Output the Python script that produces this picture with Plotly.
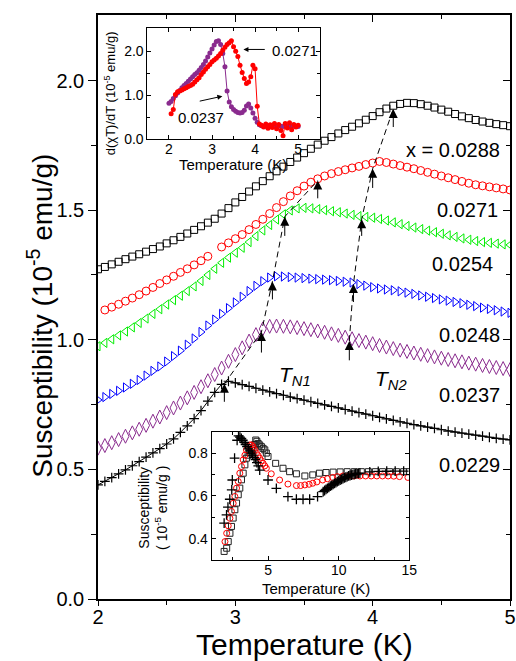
import plotly.graph_objects as go

FONT = "Liberation Sans, Arial, Helvetica, sans-serif"

# ---------------- main panel data (temperature in K, chi in 1e-5 emu/g) -------------
T = [2.00, 2.05, 2.10, 2.15, 2.20, 2.25, 2.30, 2.35, 2.40, 2.45,
     2.50, 2.55, 2.60, 2.65, 2.70, 2.75, 2.80, 2.85, 2.90, 2.95,
     3.00, 3.05, 3.10, 3.15, 3.20, 3.25, 3.30, 3.35, 3.40, 3.45,
     3.50, 3.55, 3.60, 3.65, 3.70, 3.75, 3.80, 3.85, 3.90, 3.95,
     4.00, 4.05, 4.10, 4.15, 4.20, 4.25, 4.30, 4.35, 4.40, 4.45,
     4.50, 4.55, 4.60, 4.65, 4.70, 4.75, 4.80, 4.85, 4.90, 4.95,
     5.00]

chi_0288 = [1.272, 1.281, 1.291, 1.301, 1.311, 1.321, 1.330, 1.340, 1.350, 1.360,
            1.372, 1.384, 1.397, 1.410, 1.424, 1.438, 1.452, 1.467, 1.487, 1.508,
            1.530, 1.551, 1.572, 1.592, 1.612, 1.631, 1.650, 1.668, 1.686, 1.703,
            1.720, 1.737, 1.753, 1.768, 1.782, 1.796, 1.809, 1.822, 1.835, 1.849,
            1.863, 1.878, 1.892, 1.903, 1.910, 1.914, 1.913, 1.909, 1.903, 1.896,
            1.888, 1.880, 1.871, 1.862, 1.855, 1.848, 1.842, 1.837, 1.832, 1.828,
            1.824]

chi_0271 = [None, 1.115, 1.126, 1.137, 1.149, 1.161, 1.174, 1.188, 1.202, 1.217,
            1.231, 1.245, 1.260, 1.274, 1.289, 1.305, 1.322, None, 1.358, 1.374,
            1.390, 1.406, 1.425, 1.445, 1.465, 1.487, 1.510, 1.533, 1.555, 1.575,
            1.593, 1.608, 1.621, 1.632, 1.641, 1.649, 1.656, 1.663, 1.669, 1.676,
            1.682, 1.688, 1.684, 1.678, 1.672, 1.666, 1.660, 1.653, 1.646, 1.639,
            1.632, 1.625, 1.618, 1.611, 1.604, 1.598, 1.594, 1.590, 1.586, 1.582,
            1.578]

chi_0254 = [0.975, 0.988, 1.002, 1.017, 1.032, 1.048, 1.065, 1.082, 1.100, 1.118,
            1.136, 1.153, 1.170, 1.188, 1.206, 1.227, 1.250, 1.274, 1.297, 1.317,
            1.336, 1.355, 1.377, 1.400, 1.422, 1.443, 1.464, 1.484, 1.499, 1.507,
            1.509, 1.507, 1.504, 1.500, 1.496, 1.492, 1.487, 1.482, 1.477, 1.474,
            1.471, 1.466, 1.460, 1.453, 1.446, 1.439, 1.433, 1.427, 1.421, 1.415,
            1.409, 1.403, 1.397, 1.391, 1.386, 1.381, 1.377, 1.374, 1.371, 1.368,
            1.366]

chi_0248 = [0.768, 0.779, 0.791, 0.803, 0.816, 0.830, 0.845, 0.862, 0.880, 0.897,
            0.916, 0.937, 0.958, 0.981, 1.005, 1.030, 1.055, 1.078, 1.100, 1.122,
            1.144, 1.166, 1.188, 1.208, 1.226, 1.240, 1.245, 1.244, 1.242, 1.240,
            1.238, 1.236, 1.234, 1.232, 1.230, 1.227, 1.224, 1.221, 1.215, 1.209,
            1.203, 1.198, 1.194, 1.191, 1.187, 1.182, 1.177, 1.171, 1.166, 1.161,
            1.156, 1.151, 1.146, 1.141, 1.135, 1.130, 1.124, 1.119, 1.114, 1.109,
            1.104]

chi_0237 = [0.582, 0.592, 0.603, 0.615, 0.628, 0.641, 0.655, 0.670, 0.686, 0.702,
            0.719, 0.737, 0.756, 0.776, 0.797, 0.819, 0.842, 0.866, 0.891, 0.917,
            0.943, 0.969, 0.995, 1.020, 1.042, 1.052, 1.053, 1.052, 1.050, 1.047,
            1.043, 1.039, 1.034, 1.029, 1.023, 1.017, 1.010, 1.004, 0.997, 0.991,
            0.985, 0.978, 0.972, 0.966, 0.960, 0.955, 0.949, 0.944, 0.939, 0.934,
            0.929, 0.924, 0.919, 0.915, 0.910, 0.906, 0.901, 0.897, 0.893, 0.889,
            0.885]

chi_0229 = [0.440, 0.454, 0.468, 0.483, 0.498, 0.514, 0.530, 0.547, 0.564, 0.580,
            0.598, 0.618, 0.643, 0.668, 0.696, 0.727, 0.763, 0.797, 0.828, 0.840,
            0.834, 0.827, 0.820, 0.813, 0.806, 0.799, 0.792, 0.786, 0.779, 0.773,
            0.767, 0.761, 0.755, 0.749, 0.743, 0.737, 0.731, 0.725, 0.719, 0.713,
            0.707, 0.701, 0.695, 0.689, 0.683, 0.678, 0.673, 0.668, 0.663, 0.658,
            0.653, 0.648, 0.644, 0.640, 0.636, 0.632, 0.628, 0.624, 0.620, 0.617,
            0.614]

series_labels = ["x = 0.0288", "0.0271", "0.0254", "0.0248", "0.0237", "0.0229"]
label_T = [4.942, 4.928, 4.891, 4.942, 4.942, 4.942]
label_chi = [1.731, 1.499, 1.291, 1.017, 0.786, 0.516]

# transition arrows (tip on curve, tail below) and dashed guide lines
TN1_T = [2.92, 3.19, 3.27, 3.36, 3.60]
TN1_tip = [0.830, 1.030, 1.225, 1.475, 1.615]
TN1_tail = [0.755, 0.945, 1.150, 1.395, 1.540]
TN2_T = [3.83, 3.86, 3.92, 4.00, 4.15]
TN2_tip = [0.995, 1.215, 1.465, 1.660, 1.890]
TN2_tail = [0.915, 1.140, 1.395, 1.580, 1.815]

# ---------------- upper inset: d(chi T)/dT -------------------------------------------
Ti = T
dchi_0237 = [0.82, 0.86, 0.93, 0.99, 1.05, 1.11, 1.17, 1.22, 1.27, 1.32,
             1.37, 1.42, 1.47, 1.51, 1.57, 1.63, 1.70, 1.78, 1.87, 1.96,
             2.05, 2.14, 2.22, 2.24, 2.15, 1.95, 1.65, 1.10, 0.85, 0.74,
             0.68, 0.64, 0.61, 0.60, 0.61, 0.66, 0.76, 0.80, 0.71, 0.60,
             0.48, 0.39, 0.33, 0.31, 0.30, 0.31, 0.29, 0.30, 0.31, 0.30,
             0.29, 0.31, 0.30, 0.29, 0.31, 0.30, 0.30, 0.29, 0.31, 0.30,
             0.29]
dchi_0271 = [None, 0.58, 0.68, 1.02, 1.08, 1.10, 1.12, 1.15, 1.17, 1.20,
             1.22, 1.25, 1.30, 1.35, 1.40, 1.47, 1.53, 1.59, 1.65, 1.70,
             1.76, 1.80, 1.84, 1.89, 1.95, 2.02, 2.09, 2.15, 2.19, 2.24,
             2.10, 2.00, 1.88, 1.68, 1.52, 1.38, 1.27, 1.30, 1.42, 1.68,
             1.60, 0.75, 0.35, 0.32, 0.28, 0.35, 0.25, 0.33, 0.27, 0.36,
             0.24, 0.34, 0.20, 0.08, 0.36, 0.26, 0.38, 0.22, 0.34, 0.28,
             0.32]

# ---------------- lower inset: susceptibility up to 15 K -----------------------------
ins_T_plus = [1.88, 2.05, 2.15, 2.28, 2.42, 2.46, 2.62, 2.80,
              2.90, 3.00, 3.10, 3.20, 3.30, 3.40, 3.50, 3.60, 3.70, 3.80, 3.90,
              4.00, 4.10, 4.20, 4.30, 4.40, 4.99, 5.58, 6.40, 7.00, 7.47, 7.94, 8.50,
              8.9, 9.0, 9.1, 9.2, 9.3, 9.4, 9.5, 9.6, 9.7, 9.8, 9.9, 10.0, 10.1,
              10.2, 10.3, 10.4, 10.5, 10.6, 10.7, 10.8, 10.9, 11.0, 11.1, 11.2,
              11.3, 11.4, 11.5, 12.2, 12.8, 13.4, 14.0, 14.6]
ins_chi_plus = [0.472, 0.511, 0.547, 0.584, 0.628, 0.674, 0.776, 0.860,
                0.880, 0.875, 0.868, 0.860, 0.850, 0.840, 0.830, 0.820, 0.810, 0.800, 0.790,
                0.780, 0.770, 0.755, 0.740, 0.720, 0.674, 0.635, 0.596, 0.584, 0.584, 0.584, 0.596,
                0.620, 0.625, 0.630, 0.635, 0.640, 0.645, 0.649, 0.654, 0.658, 0.662, 0.666, 0.670, 0.674,
                0.677, 0.681, 0.684, 0.687, 0.690, 0.693, 0.695, 0.697, 0.699, 0.701, 0.703,
                0.704, 0.705, 0.706, 0.712, 0.714, 0.715, 0.716, 0.716]

ins_T_circ = [1.94, 2.06, 2.17, 2.29, 2.40, 2.52, 2.64, 2.76, 2.88, 2.99,
              3.11, 3.23, 3.35, 3.46, 3.58, 3.70, 3.82, 3.93, 4.05, 4.17,
              4.29, 4.40, 4.52, 4.64, 4.76, 4.87, 5.22, 5.81, 6.40, 7.00,
              7.30, 7.60, 7.90, 8.16, 8.45, 8.86, 9.20, 9.57, 9.90, 10.3,
              10.7, 11.1, 11.5, 11.9, 12.3, 12.7, 13.1, 13.5, 13.9, 14.3, 14.9]
ins_chi_circ = [0.386, 0.425, 0.460, 0.495, 0.527, 0.565, 0.597, 0.636, 0.667, 0.706,
                0.737, 0.768, 0.790, 0.815, 0.830, 0.838, 0.838, 0.830, 0.815, 0.800,
                0.788, 0.776, 0.764, 0.752, 0.740, 0.729, 0.703, 0.674, 0.655, 0.648,
                0.648, 0.651, 0.654, 0.659, 0.665, 0.674, 0.680, 0.686, 0.690, 0.693,
                0.693, 0.693, 0.693, 0.693, 0.693, 0.693, 0.693, 0.693, 0.692, 0.690, 0.686]

ins_T_sq = [1.88, 2.06, 2.17, 2.29, 2.40, 2.52, 2.64, 2.76, 2.88, 2.99,
            3.11, 3.23, 3.35, 3.46, 3.58, 3.70, 3.82, 3.93, 4.05, 4.12,
            4.20, 4.29, 4.40, 4.52, 4.64, 4.76, 4.87, 4.99, 5.53, 6.05,
            6.52, 7.00, 7.60, 8.16, 8.63, 9.10, 9.60, 10.1, 10.6, 11.1,
            11.6, 12.1, 12.6, 13.1, 13.6, 14.1, 14.6, 15.0]
ins_chi_sq = [0.340, 0.355, 0.386, 0.425, 0.457, 0.496, 0.535, 0.566, 0.605, 0.636,
              0.675, 0.706, 0.745, 0.776, 0.790, 0.800, 0.812, 0.822, 0.840, 0.861,
              0.855, 0.845, 0.838, 0.830, 0.822, 0.815, 0.800, 0.784, 0.752, 0.729,
              0.713, 0.703, 0.693, 0.698, 0.706, 0.709, 0.711, 0.712, 0.713, 0.713,
              0.713, 0.713, 0.713, 0.713, 0.713, 0.713, 0.713, 0.713]

PURPLE = "#8a2b8e"
RED = "#ff0000"
GREEN = "#00ee00"
BLUE = "#0000ff"

fig = go.Figure()

main_series = [
    (chi_0288, "square-open", "black", 7),
    (chi_0271, "circle-open", RED, 8),
    (chi_0254, "triangle-left-open", GREEN, 8),
    (chi_0248, "triangle-right-open", BLUE, 8),
    (chi_0237, "diamond-tall-open", PURPLE, 10),
]
for vals, sym, col, size in main_series:
    fig.add_trace(go.Scatter(
        x=T, y=vals, mode="markers", xaxis="x", yaxis="y",
        marker=dict(symbol=sym, size=size, color=col, line=dict(width=1, color=col)),
        showlegend=False, hoverinfo="skip"))
fig.add_trace(go.Scatter(
    x=T, y=chi_0229, mode="lines+markers", xaxis="x", yaxis="y",
    line=dict(color="black", width=1),
    marker=dict(symbol="cross-thin", size=7, color="black", line=dict(width=1.2, color="black")),
    showlegend=False, hoverinfo="skip"))

for xs, ys in [(TN1_T, TN1_tip), (TN2_T, TN2_tip)]:
    fig.add_trace(go.Scatter(x=xs, y=ys, mode="lines", xaxis="x", yaxis="y",
                             line=dict(color="black", width=1, dash="6px,4px"),
                             showlegend=False, hoverinfo="skip"))

# dummy trace for mirrored (top/right) tick axes
fig.add_trace(go.Scatter(x=[], y=[], xaxis="x4", yaxis="y4", showlegend=False))

# upper inset
fig.add_trace(go.Scatter(x=Ti, y=dchi_0237, mode="lines+markers", xaxis="x2", yaxis="y2",
                         line=dict(color=PURPLE, width=1), marker=dict(size=5, color=PURPLE),
                         showlegend=False, hoverinfo="skip"))
fig.add_trace(go.Scatter(x=Ti, y=dchi_0271, mode="lines+markers", xaxis="x2", yaxis="y2",
                         line=dict(color=RED, width=1), marker=dict(size=5, color=RED),
                         showlegend=False, hoverinfo="skip"))

# lower inset
fig.add_trace(go.Scatter(x=ins_T_sq, y=ins_chi_sq, mode="markers", xaxis="x3", yaxis="y3",
                         marker=dict(symbol="square-open", size=6, color="#222222", line=dict(width=1)),
                         showlegend=False, hoverinfo="skip"))
fig.add_trace(go.Scatter(x=ins_T_circ, y=ins_chi_circ, mode="markers", xaxis="x3", yaxis="y3",
                         marker=dict(symbol="circle-open", size=6, color=RED, line=dict(width=1)),
                         showlegend=False, hoverinfo="skip"))
fig.add_trace(go.Scatter(x=ins_T_plus, y=ins_chi_plus, mode="markers", xaxis="x3", yaxis="y3",
                         marker=dict(symbol="cross-thin", size=7, color="black",
                                     line=dict(width=1.3, color="black")),
                         showlegend=False, hoverinfo="skip"))

ax_common = dict(showline=True, linecolor="black", showgrid=False, zeroline=False,
                 tickcolor="black", automargin=False)

YMAX = 2.253
fig.update_layout(
    width=516, height=661,
    margin=dict(l=98, r=6, t=15, b=62, autoexpand=False),
    paper_bgcolor="white", plot_bgcolor="rgba(0,0,0,0)",
    showlegend=False,
    font=dict(family=FONT, color="black"),
    xaxis=dict(domain=[0, 1], range=[2, 5], anchor="y", tickvals=[2, 3, 4, 5],
               ticks="outside", ticklen=5, tickwidth=1.2, linewidth=1.5,
               ticklabelstandoff=-6,
               minor=dict(tickvals=[2.5, 3.5, 4.5], ticks="outside", ticklen=4, tickwidth=1.2),
               tickfont=dict(size=20), **ax_common),
    yaxis=dict(domain=[0, 1], range=[0, YMAX], anchor="x", tickvals=[0, 0.5, 1.0, 1.5, 2.0],
               tickformat=".1f", ticks="outside", ticklen=8, tickwidth=1.2, linewidth=1.5,
               minor=dict(tickvals=[0.25, 0.75, 1.25, 1.75], ticks="outside", ticklen=5, tickwidth=1.2),
               tickfont=dict(size=20), **ax_common),
    xaxis4=dict(overlaying="x", side="top", range=[2, 5], anchor="y4", tickvals=[2, 3, 4, 5],
                ticks="inside", ticklen=7, tickwidth=1.2, linewidth=1.5, showticklabels=False,
                minor=dict(tickvals=[2.5, 3.5, 4.5], ticks="inside", ticklen=4, tickwidth=1.2),
                **ax_common),
    yaxis4=dict(overlaying="y", side="right", range=[0, YMAX], anchor="x4",
                tickvals=[0, 0.5, 1.0, 1.5, 2.0], ticks="inside", ticklen=7, tickwidth=1.2,
                linewidth=1.5, showticklabels=False,
                minor=dict(tickvals=[0.25, 0.75, 1.25, 1.75], ticks="inside", ticklen=4, tickwidth=1.2),
                **ax_common),
    xaxis2=dict(domain=[0.120, 0.538], range=[1.5, 5.5], anchor="y2", tickvals=[2, 3, 4, 5],
                ticks="inside", ticklen=4, mirror="allticks", linewidth=1,
                ticklabelstandoff=-3,
                minor=dict(tickvals=[2.5, 3.5, 4.5], ticks="inside", ticklen=3),
                tickfont=dict(size=14), **ax_common),
    yaxis2=dict(domain=[0.787, 0.978], range=[0, 2.53], anchor="x2", tickvals=[0, 1, 2],
                tickformat=".1f", ticks="inside", ticklen=4, mirror="allticks", linewidth=1,
                minor=dict(tickvals=[0.5, 1.5], ticks="inside", ticklen=3),
                tickfont=dict(size=14), **ax_common),
    xaxis3=dict(domain=[0.276, 0.7556], range=[1, 15], anchor="y3", tickvals=[5, 10, 15],
                ticks="inside", ticklen=4, mirror="allticks", linewidth=1,
                ticklabelstandoff=-3,
                minor=dict(tickvals=[2.5, 7.5, 12.5], ticks="inside", ticklen=3),
                tickfont=dict(size=14), **ax_common),
    yaxis3=dict(domain=[0.0668, 0.2865], range=[0.3, 0.9], anchor="x3",
                tickvals=[0.4, 0.6, 0.8], tickformat=".1f", ticks="inside", ticklen=4,
                mirror="allticks", linewidth=1,
                minor=dict(tickvals=[0.5, 0.7], ticks="inside", ticklen=3),
                tickfont=dict(size=14), **ax_common),
)

ann = []
# axis titles
ann.append(dict(text="Temperature (K)", xref="paper", yref="paper", x=0.5, y=-0.078,
                xanchor="center", yanchor="middle", showarrow=False, font=dict(size=30)))
ann.append(dict(text="Susceptibility (10<sup>-5</sup> emu/g)", xref="paper", yref="paper",
                x=-0.141, y=0.485, xanchor="center", yanchor="middle", textangle=-90,
                showarrow=False, font=dict(size=28)))
# series labels
for txt, lx, ly in zip(series_labels, label_T, label_chi):
    ann.append(dict(text=txt, x=lx, y=ly, xref="x", yref="y", xanchor="right",
                    yanchor="middle", showarrow=False, font=dict(size=20)))
# arrows
for xs, tips, tails in [(TN1_T, TN1_tip, TN1_tail), (TN2_T, TN2_tip, TN2_tail)]:
    for tx, tip, tail in zip(xs, tips, tails):
        ann.append(dict(text="", x=tx, y=tip, ax=tx, ay=tail, xref="x", yref="y",
                        axref="x", ayref="y", showarrow=True, arrowhead=2, arrowsize=1.8,
                        arrowwidth=1, arrowcolor="black", standoff=0))
ann.append(dict(text="<i>T</i><sub><i>N1</i></sub>", x=3.30, y=0.86, xref="x", yref="y",
                xanchor="left", yanchor="middle", showarrow=False, font=dict(size=21)))
ann.append(dict(text="<i>T</i><sub><i>N2</i></sub>", x=4.00, y=0.846, xref="x", yref="y",
                xanchor="left", yanchor="middle", showarrow=False, font=dict(size=21)))
# upper inset texts
ann.append(dict(text="Temperature (K)", xref="paper", yref="paper", x=0.328, y=0.744,
                xanchor="center", yanchor="middle", showarrow=False, font=dict(size=15)))
ann.append(dict(text="d(χT)/dT (10<sup>-5</sup> emu/g)", xref="paper", yref="paper",
                x=0.029, y=0.866, xanchor="center", yanchor="middle", textangle=-90,
                showarrow=False, font=dict(size=13)))
ann.append(dict(text="0.0271", x=4.935, y=2.01, xref="x2", yref="y2", xanchor="center",
                yanchor="middle", showarrow=False, font=dict(size=15)))
ann.append(dict(text="", x=3.73, y=2.04, ax=4.26, ay=2.04, xref="x2", yref="y2",
                axref="x2", ayref="y2", showarrow=True, arrowhead=2, arrowsize=1,
                arrowwidth=1, arrowcolor="black"))
ann.append(dict(text="0.0237", x=2.733, y=0.495, xref="x2", yref="y2", xanchor="center",
                yanchor="middle", showarrow=False, font=dict(size=15)))
ann.append(dict(text="", x=3.24, y=0.98, ax=2.68, ay=0.86, xref="x2", yref="y2",
                axref="x2", ayref="y2", showarrow=True, arrowhead=2, arrowsize=1,
                arrowwidth=1, arrowcolor="black"))
# lower inset texts
ann.append(dict(text="Temperature (K)", xref="paper", yref="paper", x=0.529, y=0.0175,
                xanchor="center", yanchor="middle", showarrow=False, font=dict(size=15)))
ann.append(dict(text="Susceptibility<br>( 10<sup>-5</sup> emu/g )", xref="paper", yref="paper",
                x=0.1335, y=0.156, xanchor="center", yanchor="middle", textangle=-90,
                showarrow=False, font=dict(size=14)))

fig.update_layout(annotations=ann)

fig.write_html("out.html")
